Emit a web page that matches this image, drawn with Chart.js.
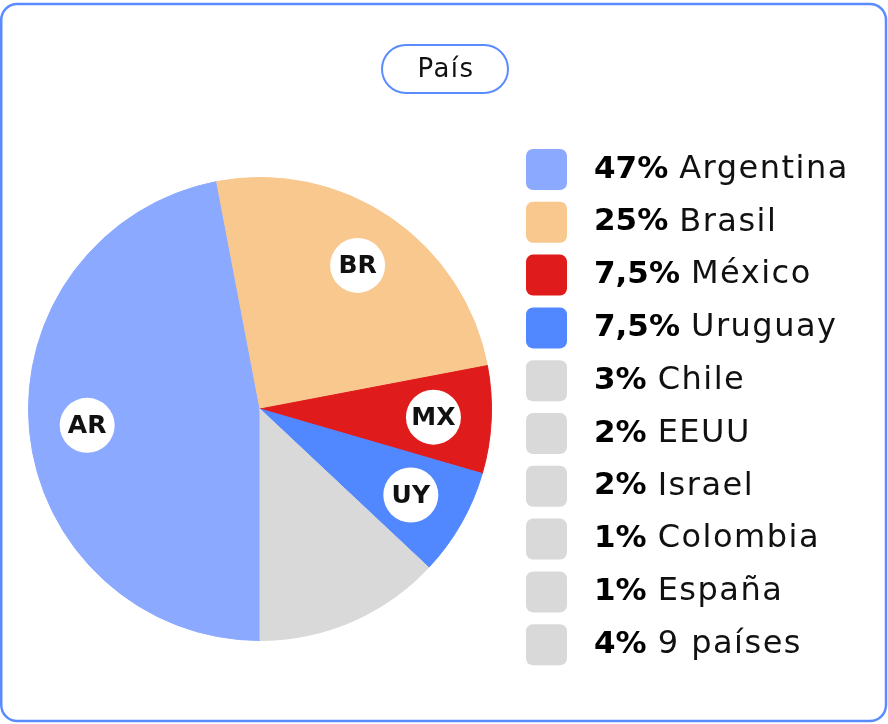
<!DOCTYPE html>
<html><head><meta charset="utf-8">
<script src="https://cdn.jsdelivr.net/npm/chart.js@4/dist/chart.umd.min.js"></script>
<style>
html,body{margin:0;padding:0;background:#fff;}
canvas{display:block;}
</style></head><body>
<canvas id="c" width="888" height="724"></canvas>
<script>
const titleText = 'País';
const countries = ['Argentina','Brasil','México','Uruguay','Chile','EEUU','Israel','Colombia','España','9 países'];
const codes = ['AR','BR','MX','UY','','','','','',''];
const shares = [47,25,7.5,7.5,3,2,2,1,1,4];
const colors = ['#8BAAFF','#F8C88F','#E01B1B','#5288FF','#D9D9D9','#D9D9D9','#D9D9D9','#D9D9D9','#D9D9D9','#D9D9D9'];

const FONT = '"DejaVu Sans", sans-serif';
const ACCENT = '#5B8CFF';

function fmtPct(v){ return String(v).replace('.', ',') + '%'; }

const decor = {
  id: 'decor',
  beforeDraw(chart){
    const ctx = chart.ctx;
    ctx.save();
    ctx.fillStyle = '#fff';
    ctx.fillRect(0,0,chart.width,chart.height);
    ctx.lineWidth = 2.5;
    ctx.strokeStyle = ACCENT;
    ctx.beginPath();
    ctx.roundRect(1.25, 4, 884.75, 717, 16);
    ctx.stroke();
    // title pill
    ctx.lineWidth = 2;
    ctx.beginPath();
    ctx.roundRect(382, 45, 126, 48, 24);
    ctx.stroke();
    ctx.fillStyle = '#111';
    ctx.font = '26px ' + FONT;
    ctx.letterSpacing = '1.5px';
    ctx.textAlign = 'center';
    ctx.textBaseline = 'middle';
    ctx.fillText(titleText, 446, 70);
    ctx.restore();
  },
  afterDatasetsDraw(chart){
    const ctx = chart.ctx;
    const meta = chart.getDatasetMeta(0);
    ctx.save();
    meta.data.forEach((el, i) => {
      if (!codes[i]) return;
      const p = el.getProps(['x','y','startAngle','endAngle','outerRadius'], true);
      const mid = (p.startAngle + p.endAngle) / 2;
      const r = p.outerRadius * 0.75;
      const x = p.x + Math.cos(mid) * r;
      const y = p.y + Math.sin(mid) * r;
      ctx.fillStyle = '#fff';
      ctx.beginPath();
      ctx.arc(x, y, 27.5, 0, Math.PI * 2);
      ctx.fill();
      ctx.fillStyle = '#111';
      ctx.font = 'bold 25px ' + FONT;
      ctx.textAlign = 'center';
      ctx.textBaseline = 'middle';
      ctx.fillText(codes[i], x, y + 1);
    });
    ctx.restore();
  },
  afterDraw(chart){
    const ctx = chart.ctx;
    ctx.save();
    const x0 = 526, top0 = 149, pitch = 52.8, sz = 41, tx = 594;
    countries.forEach((name, i) => {
      const top = top0 + i * pitch;
      ctx.fillStyle = colors[i];
      ctx.beginPath();
      ctx.roundRect(x0, top, sz, sz, 7);
      ctx.fill();
      const cy = top + sz / 2;
      ctx.textAlign = 'left';
      ctx.textBaseline = 'middle';
      ctx.fillStyle = '#000';
      ctx.letterSpacing = '0px';
      ctx.font = 'bold 31px ' + FONT;
      const pct = fmtPct(shares[i]);
      ctx.fillText(pct, tx, cy);
      const w = ctx.measureText(pct).width;
      ctx.fillStyle = '#111';
      ctx.font = '32px ' + FONT;
      ctx.letterSpacing = '1.5px';
      ctx.fillText(name, tx + w + 11, cy);
    });
    ctx.restore();
  }
};

new Chart(document.getElementById('c'), {
  type: 'pie',
  data: {
    labels: countries,
    datasets: [{
      data: shares,
      backgroundColor: colors,
      borderColor: colors,
      borderWidth: 1
    }]
  },
  options: {
    responsive: false,
    animation: false,
    rotation: 180,
    layout: { padding: { left: 28, right: 396, top: 177, bottom: 83 } },
    plugins: { legend: { display: false }, tooltip: { enabled: false } }
  },
  plugins: [decor]
});
</script>
</body></html>
